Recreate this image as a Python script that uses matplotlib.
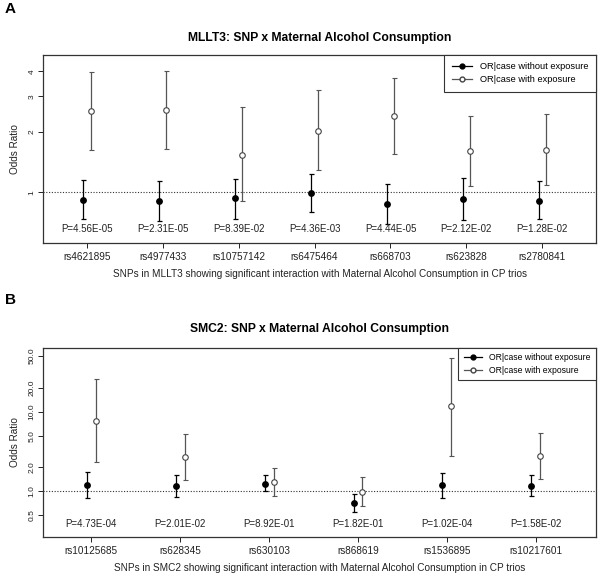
import matplotlib
matplotlib.use('Agg')
import matplotlib.pyplot as plt
from matplotlib.lines import Line2D
import numpy as np

plt.rcParams['font.family'] = ['Liberation Sans', 'DejaVu Sans']

# panel A: MLLT3
snps_a = ['rs4621895', 'rs4977433', 'rs10757142', 'rs6475464', 'rs668703', 'rs623828', 'rs2780841']
or_no_a = [0.919, 0.905, 0.934, 0.99, 0.878, 0.926, 0.908]
lo_no_a = [0.734, 0.717, 0.739, 0.795, 0.70, 0.725, 0.736]
hi_no_a = [1.155, 1.134, 1.16, 1.24, 1.10, 1.18, 1.14]
or_ex_a = [2.54, 2.57, 1.54, 2.03, 2.40, 1.60, 1.63]
lo_ex_a = [1.62, 1.64, 0.908, 1.29, 1.55, 1.07, 1.09]
hi_ex_a = [3.95, 4.01, 2.65, 3.22, 3.72, 2.40, 2.44]
pvals_a = ['4.56E-05', '2.31E-05', '8.39E-02', '4.36E-03', '4.44E-05', '2.12E-02', '1.28E-02']

# panel B: SMC2
snps_b = ['rs10125685', 'rs628345', 'rs630103', 'rs868619', 'rs1536895', 'rs10217601']
or_no_b = [1.19, 1.166, 1.246, 0.713, 1.19, 1.166]
lo_no_b = [0.824, 0.855, 1.0, 0.55, 0.83, 0.865]
hi_no_b = [1.73, 1.59, 1.59, 0.916, 1.68, 1.59]
or_ex_b = [7.71, 2.72, 1.30, 0.99, 11.7, 2.78]
lo_ex_b = [2.31, 1.39, 0.865, 0.66, 2.75, 1.43]
hi_ex_b = [25.7, 5.2, 1.95, 1.51, 47.7, 5.35]
pvals_b = ['4.73E-04', '2.01E-02', '8.92E-01', '1.82E-01', '1.02E-04', '1.58E-02']


def panel(ax, snps, or_no, lo_no, hi_no, or_ex, lo_ex, hi_ex, pvals,
          xlim, ylim, yticks, yticklabels, p_y, gene, legfs, legh):
    x = np.arange(1, len(snps) + 1)
    or_no, lo_no, hi_no = map(np.array, (or_no, lo_no, hi_no))
    or_ex, lo_ex, hi_ex = map(np.array, (or_ex, lo_ex, hi_ex))

    ax.axhline(1, color='#333333', lw=0.8, ls=(0, (1, 1.5)), zorder=1)

    ax.errorbar(x - 0.05, or_no, yerr=[or_no - lo_no, hi_no - or_no], fmt='o',
                color='black', ms=3.9, elinewidth=0.9, capsize=1.8, capthick=0.9, zorder=3)
    ax.errorbar(x + 0.05, or_ex, yerr=[or_ex - lo_ex, hi_ex - or_ex], fmt='o',
                mfc='white', mec='#444444', mew=0.8, ms=4.0, ecolor='#555555',
                elinewidth=0.9, capsize=1.8, capthick=0.9, zorder=3)

    for xi, p in zip(x, pvals):
        ax.text(xi, p_y, 'P=' + p, ha='center', va='center', fontsize=7, color='#222222')

    ax.set_yscale('log')
    ax.set_xlim(*xlim)
    ax.set_ylim(*ylim)
    ax.set_yticks(yticks)
    ax.set_yticklabels(yticklabels, rotation=90, va='center')
    ax.yaxis.set_minor_locator(matplotlib.ticker.NullLocator())
    ax.set_xticks(x)
    ax.set_xticklabels(snps)
    ax.tick_params(axis='x', length=3.5, width=0.7, labelsize=7.2, pad=3, colors='#222222')
    ax.tick_params(axis='y', length=3.5, width=0.7, labelsize=6, pad=2, colors='#222222')
    for s in ax.spines.values():
        s.set_color('#333333')
        s.set_linewidth(0.9)

    ax.set_ylabel('Odds Ratio', fontsize=7.2, color='#222222', labelpad=6)
    ax.set_xlabel('SNPs in ' + gene + ' showing significant interaction with Maternal Alcohol Consumption in CP trios',
                  fontsize=7.2, color='#222222', labelpad=5)

    handles = [Line2D([], [], color='black', marker='o', ms=3.5, lw=0.9),
               Line2D([], [], color='#555555', marker='o', mfc='white', mec='#444444', ms=3.5, lw=0.9)]
    leg = ax.legend(handles, ['OR|case without exposure', 'OR|case with exposure'],
                    loc='upper right', borderaxespad=0, fancybox=False, framealpha=1,
                    edgecolor='#333333', fontsize=legfs, handlelength=2.2,
                    handletextpad=0.8, borderpad=legh, labelspacing=0.4)
    leg.get_frame().set_linewidth(0.8)


fig = plt.figure(figsize=(6, 5.77), dpi=100)
axA = fig.add_axes([0.0722, 0.5783, 0.9207, 0.3263])
axB = fig.add_axes([0.0722, 0.0699, 0.9212, 0.3265])

panel(axA, snps_a, or_no_a, lo_no_a, hi_no_a, or_ex_a, lo_ex_a, hi_ex_a, pvals_a,
      (0.428, 7.703), (0.558, 4.82), [1, 2, 3, 4], ['1', '2', '3', '4'], 0.655, 'MLLT3', 6.7, 0.8)
panel(axB, snps_b, or_no_b, lo_no_b, hi_no_b, or_ex_b, lo_ex_b, hi_ex_b, pvals_b,
      (0.461, 6.677), (0.269, 62.5), [0.5, 1, 2, 5, 10, 20, 50],
      ['0.5', '1.0', '2.0', '5.0', '10.0', '20.0', '50.0'], 0.385, 'SMC2', 6.2, 0.6)

fig.text(0.5325, 1 - 38 / 577, 'MLLT3: SNP x Maternal Alcohol Consumption',
         ha='center', va='center', fontsize=8.7, fontweight='bold')
fig.text(0.5325, 1 - 329 / 577, 'SMC2: SNP x Maternal Alcohol Consumption',
         ha='center', va='center', fontsize=8.7, fontweight='bold')
fig.text(0.008, 1 - 9 / 577, 'A', ha='left', va='center', fontsize=11, fontweight='bold')
fig.text(0.008, 1 - 300 / 577, 'B', ha='left', va='center', fontsize=11, fontweight='bold')

plt.savefig('out.png', dpi=100)
